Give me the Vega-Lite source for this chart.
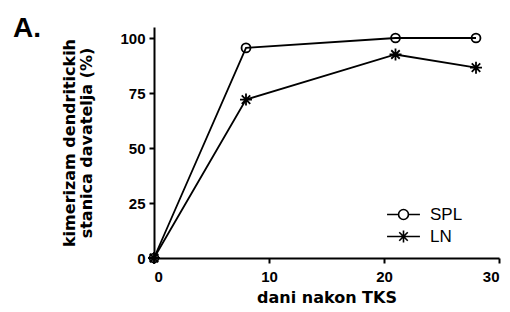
{
  "$schema": "https://vega.github.io/schema/vega-lite/v6.json",
  "width": 345,
  "height": 231,
  "autosize": "none",
  "padding": {"left": 154, "top": 27, "right": 11, "bottom": 54},
  "background": "white",
  "title": {
    "text": "A.",
    "anchor": "start",
    "frame": "group",
    "font": "Liberation Sans",
    "fontSize": 28,
    "fontWeight": "bold",
    "color": "black",
    "dx": -141,
    "offset": -16
  },
  "config": {
    "view": {"stroke": null},
    "axis": {
      "grid": false,
      "domainColor": "black",
      "domainWidth": 2,
      "tickColor": "black",
      "tickWidth": 2,
      "tickSize": 5,
      "labelFont": "Liberation Sans",
      "labelFontSize": 15,
      "labelFontWeight": "bold",
      "labelColor": "black",
      "titleFont": "DejaVu Sans",
      "titleFontSize": 16,
      "titleFontWeight": "bold",
      "titleColor": "black"
    }
  },
  "data": {
    "values": [
      {"series": "SPL", "day": 0, "value": 0},
      {"series": "SPL", "day": 8, "value": 95.5},
      {"series": "SPL", "day": 21, "value": 100},
      {"series": "SPL", "day": 28, "value": 100},
      {"series": "LN", "day": 0, "value": 0},
      {"series": "LN", "day": 8, "value": 72},
      {"series": "LN", "day": 21, "value": 92.5},
      {"series": "LN", "day": 28, "value": 86.5}
    ]
  },
  "encoding": {
    "x": {
      "field": "day",
      "type": "quantitative",
      "scale": {"domain": [0, 30], "nice": false, "zero": false},
      "axis": {"values": [0, 10, 20, 30], "title": "dani nakon TKS", "labelPadding": 6, "titlePadding": 5}
    },
    "y": {
      "field": "value",
      "type": "quantitative",
      "scale": {"domain": [0, 105], "nice": false},
      "axis": {"values": [0, 25, 50, 75, 100], "title": ["kimerizam dendritickih", "stanica davatelja (%)"], "titleLineHeight": 17, "labelPadding": 4, "titlePadding": 25}
    }
  },
  "layer": [
    {
      "mark": {"type": "line", "color": "black", "strokeWidth": 1.8},
      "encoding": {"detail": {"field": "series", "type": "nominal"}}
    },
    {
      "mark": {"type": "point", "filled": false, "color": "black", "strokeWidth": 1.8, "opacity": 1, "size": 80},
      "encoding": {
        "shape": {
          "field": "series",
          "type": "nominal",
          "scale": {
            "domain": ["SPL", "LN"],
            "range": ["circle", "M-1.34,0L1.34,0M0,-1.34L0,1.34M-0.95,-0.95L0.95,0.95M-0.95,0.95L0.95,-0.95"]
          },
          "legend": null
        }
      }
    },
    {
      "transform": [{"filter": "datum.day < 0"}],
      "mark": {"type": "point", "filled": false, "color": "black", "strokeWidth": 1.6, "opacity": 1, "size": 529},
      "encoding": {
        "shape": {
          "field": "series",
          "type": "nominal",
          "scale": {
            "domain": ["SPL", "LN"],
            "range": [
              "M-1.43,0L-0.43,0M0.43,0L1.43,0M-0.43,0A0.43,0.43,0,1,0,0.43,0A0.43,0.43,0,1,0,-0.43,0",
              "M-1.43,0L1.43,0M0,-0.52L0,0.52M-0.37,-0.37L0.37,0.37M-0.37,0.37L0.37,-0.37"
            ]
          },
          "legend": {
            "title": null,
            "orient": "none",
            "legendX": 237,
            "legendY": 175,
            "labelFont": "Liberation Sans",
            "labelFontSize": 17,
            "labelColor": "black",
            "labelOffset": 14,
            "rowPadding": 1,
            "symbolSize": 529,
            "symbolStrokeWidth": 1.6,
            "symbolStrokeColor": "black",
            "symbolFillColor": "transparent"
          }
        }
      }
    }
  ],
  "resolve": {"scale": {"shape": "independent"}, "legend": {"shape": "independent"}}
}
